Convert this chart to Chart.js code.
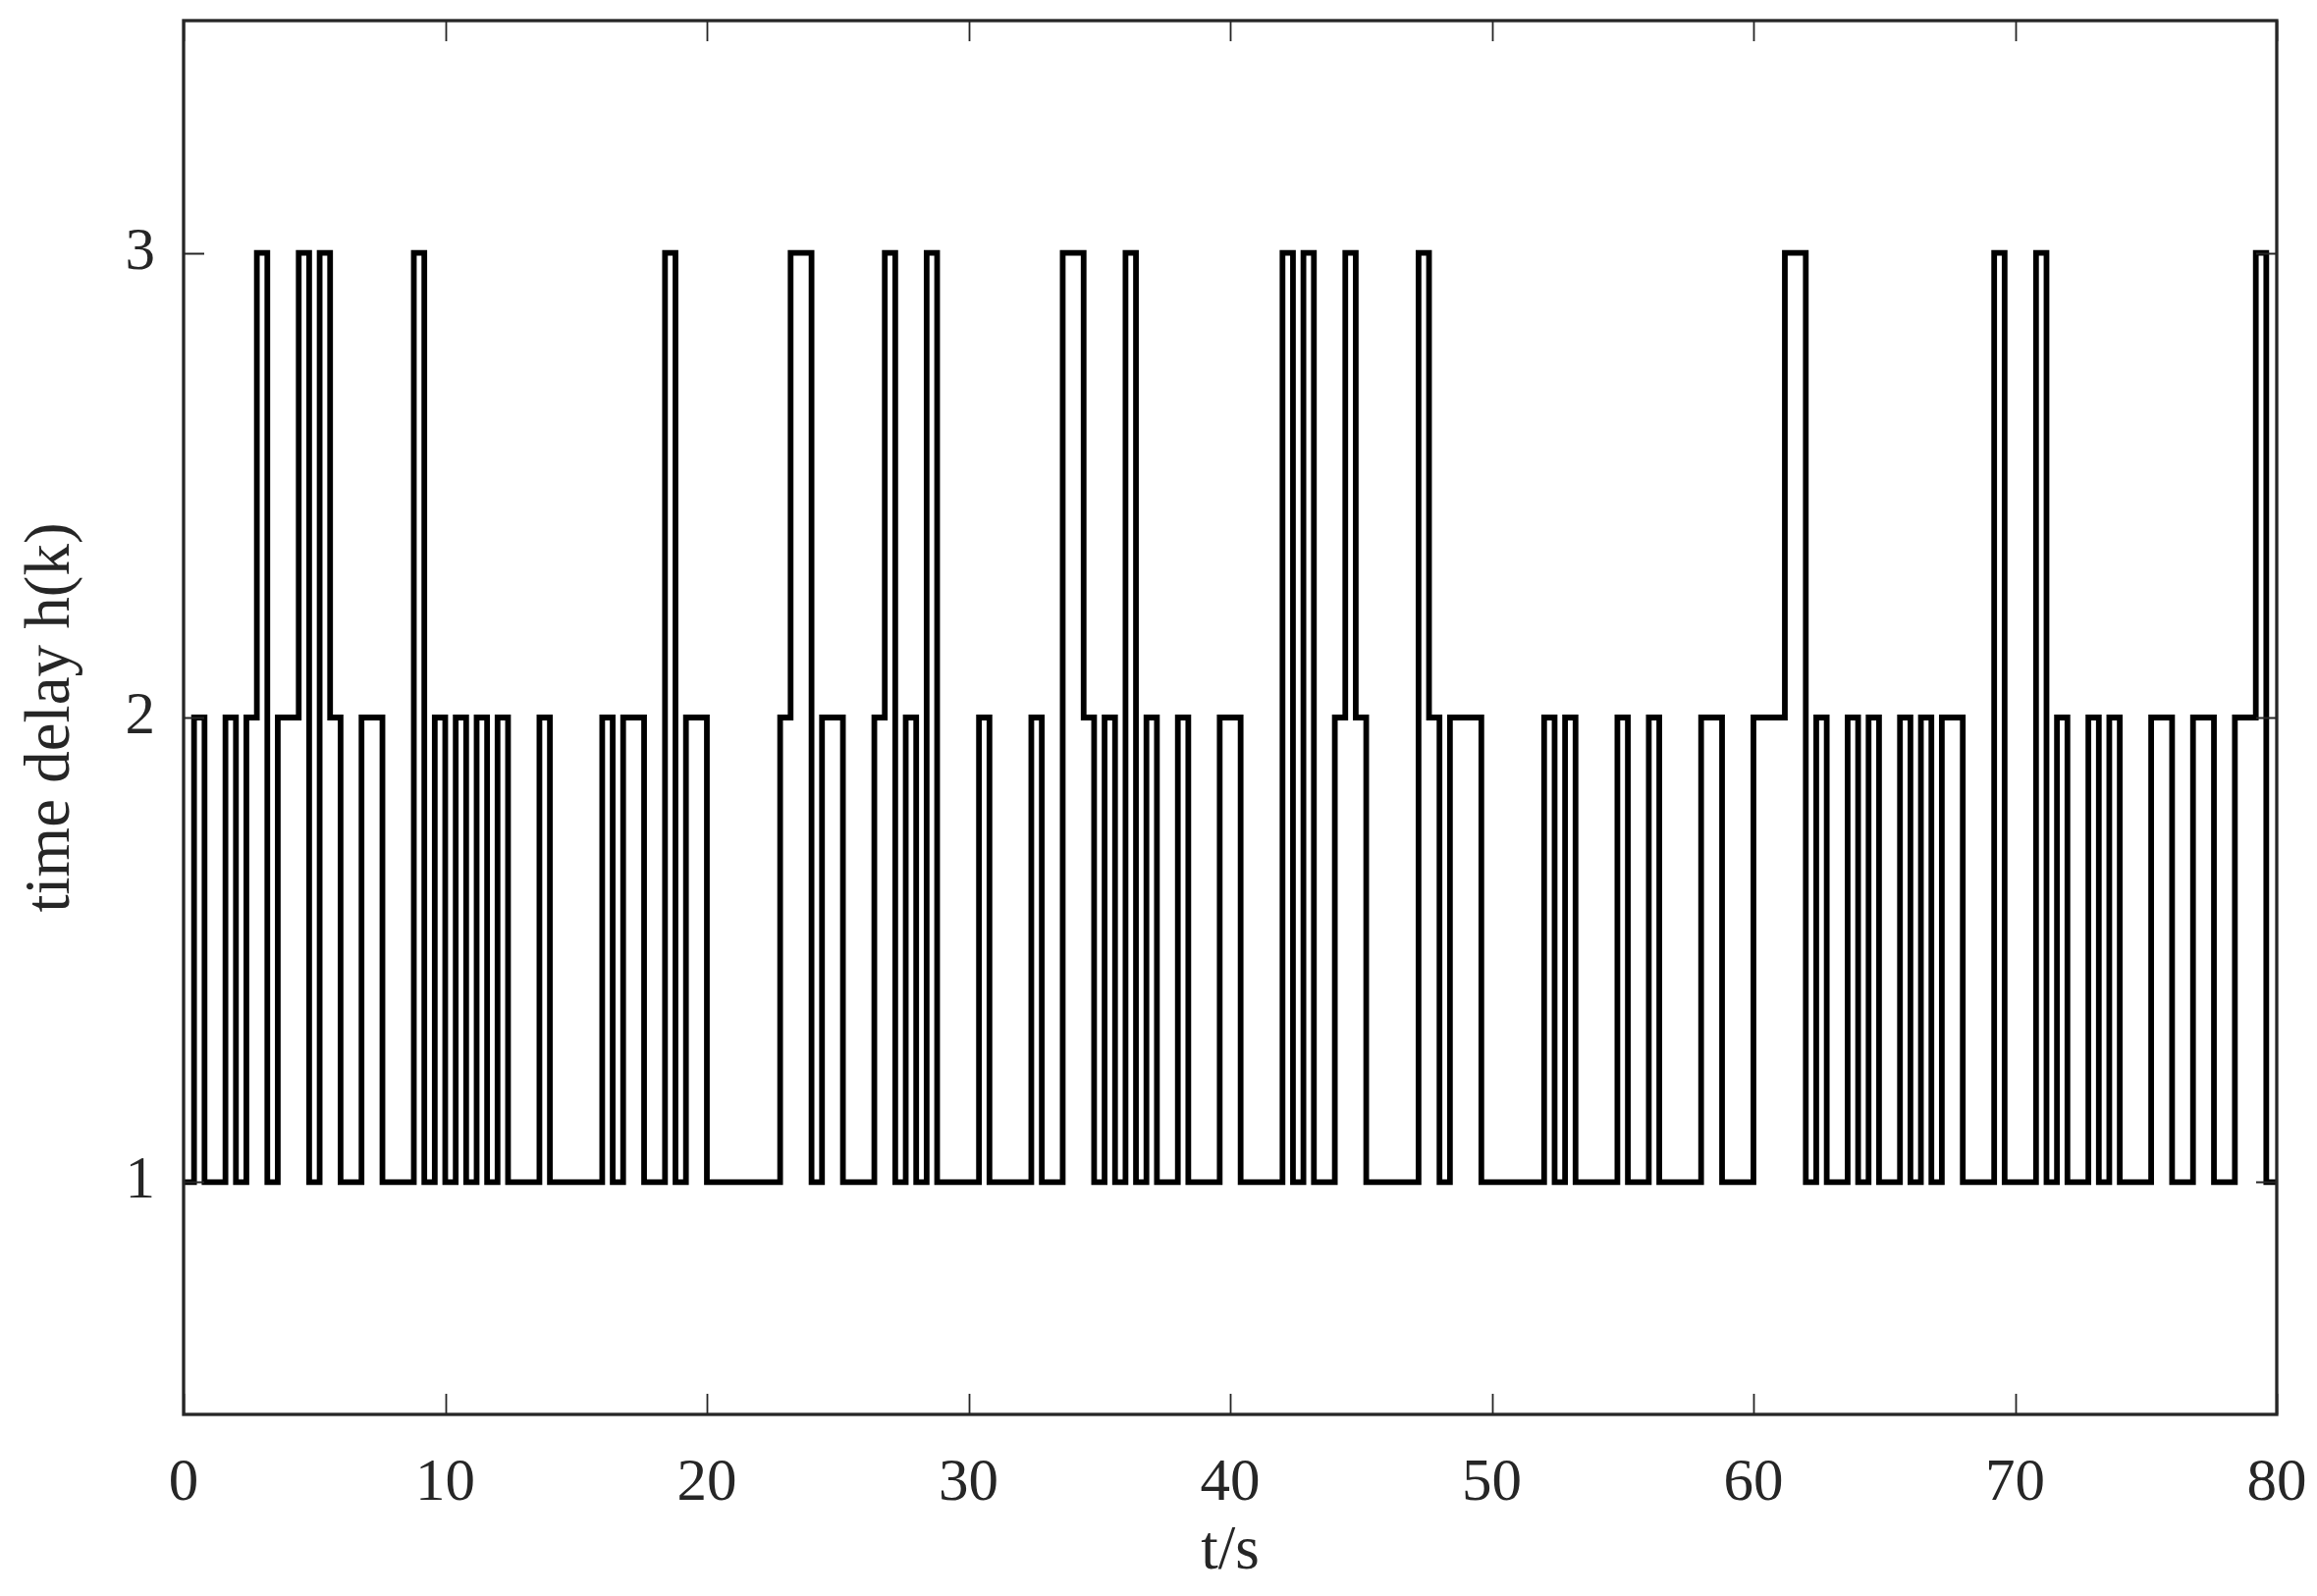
<!DOCTYPE html>
<html>
<head>
<meta charset="utf-8">
<script src="https://cdn.jsdelivr.net/npm/chart.js@4.4.1/dist/chart.umd.min.js"></script>
<style>
html,body{margin:0;padding:0;background:#ffffff;}
#wrap{width:2360px;height:1626px;}
</style>
</head>
<body>
<div id="wrap"><canvas id="c" width="2360" height="1626"></canvas></div>
<script>
// step edges (s): each delay value holds from sampleTimes[k] to sampleTimes[k+1]
const sampleTimes = [
  0,0.4,0.8,1.2,1.6,2,2.4,2.8,3.2,3.6,4,4.4,4.8,5.2,5.6,6,6.4,6.8,7.2,7.6,8,8.4,8.8,9.2,9.6,
  10,10.4,10.8,11.2,11.6,12,12.4,12.8,13.2,13.6,14,14.4,14.8,15.2,15.6,16,16.4,16.8,17.2,17.6,18,18.4,18.8,19.2,19.6,
  20,20.4,20.8,21.2,21.6,22,22.4,22.8,23.2,23.6,24,24.4,24.8,25.2,25.6,26,26.4,26.8,27.2,27.6,28,28.4,28.8,29.2,29.6,
  30,30.4,30.8,31.2,31.6,32,32.4,32.8,33.2,33.6,34,34.4,34.8,35.2,35.6,36,36.4,36.8,37.2,37.6,38,38.4,38.8,39.2,39.6,
  40,40.4,40.8,41.2,41.6,42,42.4,42.8,43.2,43.6,44,44.4,44.8,45.2,45.6,46,46.4,46.8,47.2,47.6,48,48.4,48.8,49.2,49.6,
  50,50.4,50.8,51.2,51.6,52,52.4,52.8,53.2,53.6,54,54.4,54.8,55.2,55.6,56,56.4,56.8,57.2,57.6,58,58.4,58.8,59.2,59.6,
  60,60.4,60.8,61.2,61.6,62,62.4,62.8,63.2,63.6,64,64.4,64.8,65.2,65.6,66,66.4,66.8,67.2,67.6,68,68.4,68.8,69.2,69.6,
  70,70.4,70.8,71.2,71.6,72,72.4,72.8,73.2,73.6,74,74.4,74.8,75.2,75.6,76,76.4,76.8,77.2,77.6,78,78.4,78.8,79.2,79.6,
  80
];
// h(k) for each 0.4 s sample
const delaySteps = [
  1,2,1,1,2,1,2,3,1,2,2,3,1,3,2,1,1,2,2,1,1,1,3,1,2,
  1,2,1,2,1,2,1,1,1,2,1,1,1,1,1,2,1,2,2,1,1,3,1,2,2,
  1,1,1,1,1,1,1,2,3,3,1,2,2,1,1,1,2,3,1,2,1,3,1,1,1,
  1,2,1,1,1,1,2,1,1,3,3,2,1,2,1,3,1,2,1,1,2,1,1,1,2,
  2,1,1,1,1,3,1,3,1,1,2,3,2,1,1,1,1,1,3,2,1,2,2,2,1,
  1,1,1,1,1,2,1,2,1,1,1,1,2,1,1,2,1,1,1,1,2,2,1,1,1,
  2,2,2,3,3,1,2,1,1,2,1,2,1,1,2,1,2,1,2,2,1,1,1,3,1,
  1,1,3,1,2,1,1,2,1,2,1,1,1,2,2,1,1,2,2,1,1,2,2,3,1
];
const xTickValues = [0,10,20,30,40,50,60,70,80];
const yTickValues = [1,2,3];
const xTitle = 't/s';
const yTitle = 'time delay h(k)';

const points = delaySteps.map((v, k) => ({x: sampleTimes[k], y: v}));
points.push({x: sampleTimes[sampleTimes.length - 1], y: delaySteps[delaySteps.length - 1]});

const FONT = 'Liberation Serif';
const TXT = '#262626';

function zeroPad(s) { s.paddingTop = 0; s.paddingBottom = 0; s.paddingLeft = 0; s.paddingRight = 0; }

const boxPlugin = {
  id: 'matlabBox',
  afterDatasetsDraw(chart) {
    const {ctx, chartArea: a, scales: {x, y}} = chart;
    ctx.save();
    ctx.strokeStyle = TXT;
    ctx.lineWidth = 1.8;
    const L = 21;
    ctx.beginPath();
    x.ticks.forEach(t => {
      const px = Math.round(x.getPixelForValue(t.value)) + 0.5;
      ctx.moveTo(px, a.bottom); ctx.lineTo(px, a.bottom - L);
      ctx.moveTo(px, a.top); ctx.lineTo(px, a.top + L);
    });
    y.ticks.forEach(t => {
      const py = Math.round(y.getPixelForValue(t.value)) + 0.5;
      ctx.moveTo(a.left, py); ctx.lineTo(a.left + L, py);
      ctx.moveTo(a.right, py); ctx.lineTo(a.right - L, py);
    });
    ctx.stroke();
    ctx.lineWidth = 3.3;
    ctx.strokeRect(a.left, a.top, a.right - a.left, a.bottom - a.top);
    ctx.restore();
  }
};

new Chart(document.getElementById('c'), {
  type: 'line',
  data: {
    datasets: [{
      data: points,
      stepped: true,
      borderColor: '#000000',
      borderWidth: 5.8,
      pointRadius: 0,
      fill: false,
      tension: 0
    }]
  },
  options: {
    responsive: false,
    animation: false,
    devicePixelRatio: 1,
    layout: {padding: {left: 0, right: 41, top: 21, bottom: 0}},
    plugins: {legend: {display: false}, tooltip: {enabled: false}},
    scales: {
      x: {
        type: 'linear',
        min: 0, max: 80,
        afterBuildTicks: s => { s.ticks = xTickValues.map(v => ({value: v})); },
        afterFit: s => { s.height = 185; zeroPad(s); },
        grid: {display: false, drawTicks: false},
        border: {display: false},
        ticks: {
          color: TXT, padding: 34, maxRotation: 0, autoSkip: false,
          font: {family: FONT, size: 61}
        },
        title: {
          display: true, text: xTitle, color: TXT,
          font: {family: FONT, size: 63, lineHeight: 1.2},
          padding: {top: 0, bottom: 7}
        }
      },
      y: {
        type: 'linear',
        min: 0.5, max: 3.5,
        afterBuildTicks: s => { s.ticks = yTickValues.map(v => ({value: v})); },
        afterFit: s => { s.width = 187; zeroPad(s); },
        grid: {display: false, drawTicks: false},
        border: {display: false},
        ticks: {
          color: TXT, padding: 29, autoSkip: false,
          font: {family: FONT, size: 61}
        },
        title: {
          display: true, text: yTitle, color: TXT,
          font: {family: FONT, size: 65, lineHeight: 1.2},
          padding: {top: 14, bottom: 0}
        }
      }
    }
  },
  plugins: [boxPlugin]
});
</script>
</body>
</html>
